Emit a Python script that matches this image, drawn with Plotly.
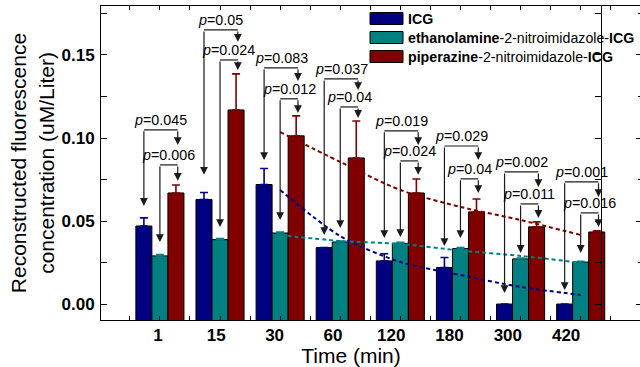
import plotly.graph_objects as go

# ---------------- data ----------------
time_labels = ["1", "15", "30", "60", "120", "180", "300", "420"]
series_names = ["ICG", "ethanolamine-2-nitroimidazole-ICG", "piperazine-2-nitroimidazole-ICG"]

icg = [0.047, 0.063, 0.072, 0.034, 0.026, 0.022, 0.000, 0.000]
icg_err = [0.0049, 0.0042, 0.0096, 0.0, 0.0043, 0.0060, 0.0, 0.0]
eth = [0.029, 0.0388, 0.0428, 0.0374, 0.0366, 0.0334, 0.0272, 0.0253]
eth_err = [0.0008, 0.0006, 0.0006, 0.0006, 0.0006, 0.0006, 0.0005, 0.0005]
pip = [0.0669, 0.1169, 0.1013, 0.0880, 0.0669, 0.0555, 0.0465, 0.0434]
pip_err = [0.0048, 0.0217, 0.0120, 0.0222, 0.0084, 0.0078, 0.0030, 0.0007]

# dashed fit curves (read at group centres 30..420 min)
fit_idx = [2, 3, 4, 5, 6, 7]
fit_icg = [0.0687, 0.0409, 0.0253, 0.0175, 0.0103, 0.0055]
fit_eth = [0.0416, 0.0380, 0.0362, 0.0322, 0.0290, 0.0249]
fit_pip = [0.1036, 0.0856, 0.0687, 0.0585, 0.0506, 0.0416]

# significance brackets
p_upper = ["0.045", "0.05", "0.083", "0.037", "0.019", "0.029", "0.002", "0.001"]
p_lower = ["0.006", "0.024", "0.012", "0.04", "0.024", "0.04", "0.011", "0.016"]
up_h = [0.1049, 0.1651, 0.1422, 0.1356, 0.1043, 0.0952, 0.0796, 0.0736]
up_left_tip = [0.0591, 0.0778, 0.0868, 0.0416, 0.0398, 0.0350, 0.0067, 0.0085]
up_right_tip = [0.0958, 0.1579, 0.1344, 0.1289, 0.0958, 0.0868, 0.0705, 0.0645]
lo_h = [0.0838, 0.1470, 0.1236, 0.1187, 0.0862, 0.0754, 0.0603, 0.0549]
lo_left_tip = [0.0374, 0.0464, 0.0506, 0.0458, 0.0404, 0.0398, 0.0308, 0.0308]
lo_right_tip = [0.0742, 0.1410, 0.1151, 0.1121, 0.0778, 0.0669, 0.0519, 0.0464]

# ---------------- style ----------------
COLORS = ["#000080", "#008080", "#800000"]
FONT = "Liberation Sans, Arial, sans-serif"
BASE = -0.01
Y_RANGE = [-0.0096, 0.1795]
OFF = 0.8 / 3  # bar offset within group

x = list(range(len(time_labels)))

fig = go.Figure()
for name, vals, errs, col in zip(series_names, [icg, eth, pip], [icg_err, eth_err, pip_err], COLORS):
    fig.add_trace(go.Bar(
        x=x, y=[v - BASE for v in vals], base=BASE, name=name,
        marker=dict(color=col, line=dict(color="black", width=1)),
        error_y=dict(type="data", array=errs, arrayminus=[0] * len(errs), symmetric=False,
                     color=col, thickness=1.6, width=4),
        showlegend=False,
    ))

for vals, col in zip([fit_icg, fit_eth, fit_pip], COLORS):
    fig.add_trace(go.Scatter(
        x=fit_idx, y=vals, mode="lines",
        line=dict(color=col, width=2, dash="4px,3px", shape="spline", smoothing=0.8),
        showlegend=False, hoverinfo="skip",
    ))

# invisible trace that carries the category-label axis
fig.add_trace(go.Scatter(x=x, y=[None] * len(x), xaxis="x2", yaxis="y", mode="markers",
                         showlegend=False, hoverinfo="skip"))

annotations = []
shapes = []
LINE_C = "#1a1a1a"
PFONT = dict(family=FONT, size=14.3, color="black")
for i in x:
    xb, xt, xr = i - OFF, i, i + OFF + 0.03
    shapes.append(dict(type="line", xref="x", yref="y", x0=xb, x1=xr, y0=up_h[i], y1=up_h[i],
                       line=dict(color=LINE_C, width=1.2)))
    shapes.append(dict(type="line", xref="x", yref="y", x0=xt, x1=xr, y0=lo_h[i], y1=lo_h[i],
                       line=dict(color=LINE_C, width=1.2)))
    for (xx, y0, y1) in [(xb, up_h[i], up_left_tip[i]), (xr, up_h[i], up_right_tip[i]),
                         (xt, lo_h[i], lo_left_tip[i]), (xr, lo_h[i], lo_right_tip[i])]:
        annotations.append(dict(x=xx, y=y1, ax=xx, ay=y0, xref="x", yref="y", axref="x", ayref="y",
                                text="", showarrow=True, arrowhead=2, arrowsize=1.3,
                                arrowwidth=1.2, arrowcolor=LINE_C, standoff=0, startstandoff=0))
    annotations.append(dict(x=(xb + xr) / 2, y=up_h[i], xref="x", yref="y", yanchor="bottom",
                            text="<i>p</i>=" + p_upper[i], showarrow=False, yshift=0, font=PFONT))
    annotations.append(dict(x=(xt + xr) / 2, y=lo_h[i], xref="x", yref="y", yanchor="bottom",
                            text="<i>p</i>=" + p_lower[i], showarrow=False, yshift=0, font=PFONT))

# manual legend (wide swatches as in the reference)
legend_text = ["<b>ICG</b>",
               "<b>ethanolamine</b>-2-nitroimidazole-<b>ICG</b>",
               "<b>piperazine</b>-2-nitroimidazole-<b>ICG</b>"]
PW, PH, L, T = 541, 314, 101, 6
rows_py = [18.5, 37.5, 56.5]
for txt, col, py in zip(legend_text, COLORS, rows_py):
    shapes.append(dict(type="rect", xref="paper", yref="paper",
                       x0=(370 - L) / PW, x1=(403 - L) / PW,
                       y0=1 - (py - 6 - T) / PH, y1=1 - (py + 6 - T) / PH,
                       fillcolor=col, line=dict(color="black", width=1)))
    annotations.append(dict(xref="paper", yref="paper", x=(406 - L) / PW, y=1 - (py - T) / PH,
                            xanchor="left", yanchor="middle", text=txt, showarrow=False,
                            font=dict(family=FONT, size=14.2, color="black")))

fig.update_layout(
    width=642, height=367,
    margin=dict(l=101, r=0, t=6, b=47),
    paper_bgcolor="white", plot_bgcolor="rgba(0,0,0,0)",
    barmode="group", bargap=0.2, bargroupgap=0,
    font=dict(family=FONT, color="black"),
    shapes=shapes, annotations=annotations,
    xaxis=dict(range=[-0.98, 8.02], showline=True, linecolor="black", linewidth=1, mirror="ticks",
               ticks="inside", ticklen=4, tickcolor="black", tick0=0, dtick=0.5,
               showticklabels=False, showgrid=False, zeroline=False),
    xaxis2=dict(domain=[0, 0.9242], anchor="y", range=[-0.978, 7.598],
                tickmode="array", tickvals=x, ticktext=time_labels, ticks="", showline=False,
                showgrid=False, zeroline=False, ticklabelstandoff=3,
                tickfont=dict(family=FONT, size=17, weight="bold"),
                title=dict(text="Time (min)", font=dict(family=FONT, size=21), standoff=3)),
    yaxis=dict(range=Y_RANGE, showline=True, linecolor="black", linewidth=1, mirror="allticks",
               ticks="inside", ticklen=6, tickcolor="black", tick0=0, dtick=0.05,
               tickformat=".2f", showgrid=False, zeroline=False, ticklabelstandoff=2,
               minor=dict(dtick=0.025, ticks="inside", ticklen=4, tickcolor="black"),
               tickfont=dict(family=FONT, size=17, weight="bold"),
               title=dict(text="Reconstructed fluorescence<br>concentration (uM/Liter)",
                          font=dict(family=FONT, size=21), standoff=1)),
)

fig.write_html("out.html", config={"displayModeBar": False},
               post_script="document.body.style.margin='0';document.body.style.padding='0';"
                           "document.body.style.overflow='hidden';"
                           "document.documentElement.style.overflow='hidden';")
